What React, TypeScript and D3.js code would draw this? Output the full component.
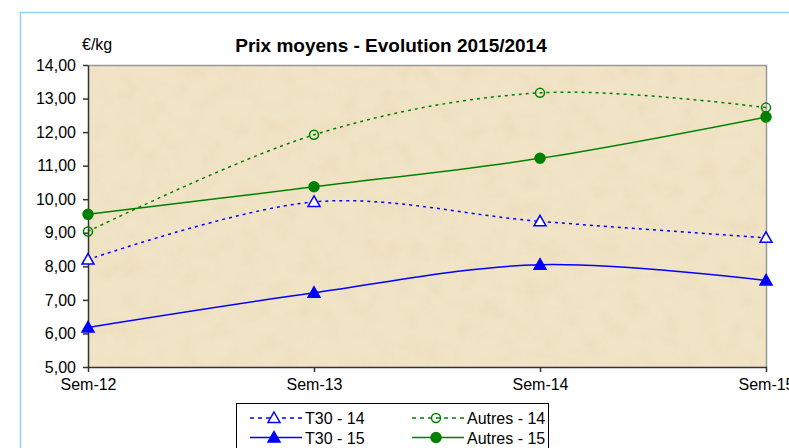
import * as d3 from "d3";
import { useEffect, useRef } from "react";

const weeks = ["Sem-12", "Sem-13", "Sem-14", "Sem-15"];
const yTicks = [5, 6, 7, 8, 9, 10, 11, 12, 13, 14];

const t30_14 = [8.2, 9.92, 9.34, 8.85];
const t30_15 = [6.18, 7.21, 8.05, 7.58];
const autres_14 = [9.04, 11.92, 13.17, 12.73];
const autres_15 = [9.55, 10.37, 11.22, 12.45];

const series = [
  { name: "T30 - 14", values: t30_14, color: "#0000ff", dashed: true, marker: "triangle", filled: false },
  { name: "Autres - 14", values: autres_14, color: "#008000", dashed: true, marker: "circle", filled: false },
  { name: "T30 - 15", values: t30_15, color: "#0000ff", dashed: false, marker: "triangle", filled: true },
  { name: "Autres - 15", values: autres_15, color: "#008000", dashed: false, marker: "circle", filled: true },
];

const FONT = "Liberation Sans, Arial, sans-serif";

export default function App() {
  const ref = useRef<SVGSVGElement>(null);

  useEffect(() => {
    const width = 789;
    const height = 448;
    const left = 88, right = 766, top = 65, bottom = 367;

    const svg = d3.select(ref.current);
    svg.selectAll("*").remove();
    svg.attr("width", width).attr("height", height).style("font-family", FONT);

    // paper texture
    const defs = svg.append("defs");
    const f = defs.append("filter").attr("id", "paper")
      .attr("x", 0).attr("y", 0).attr("width", "100%").attr("height", "100%");
    f.append("feTurbulence").attr("type", "fractalNoise")
      .attr("baseFrequency", 0.05).attr("numOctaves", 4).attr("seed", 7).attr("result", "noise");
    f.append("feColorMatrix").attr("in", "noise").attr("type", "matrix")
      .attr("values", "0 0 0 0 0.84  0 0 0 0 0.72  0 0 0 0 0.50  -1.6 0 0 0 0.95")
      .attr("result", "tint");
    f.append("feComposite").attr("in", "tint").attr("in2", "SourceGraphic").attr("operator", "atop");

    svg.append("rect").attr("width", width).attr("height", height).attr("fill", "#fff");

    // outer chart border
    svg.append("rect").attr("x", 20.5).attr("y", 12.5).attr("width", 800).attr("height", 460)
      .attr("fill", "none").attr("stroke", "#8fd3f3").attr("stroke-width", 1.5);

    const x = d3.scalePoint<string>().domain(weeks).range([left, right]);
    const y = d3.scaleLinear().domain([5, 14]).range([bottom, top]);

    svg.append("rect").attr("x", left).attr("y", top).attr("width", right - left).attr("height", bottom - top)
      .attr("fill", "#f1e4c6").attr("filter", "url(#paper)");
    svg.append("path")
      .attr("d", `M${left},${top + 0.5}H${right + 0.5}V${bottom}`)
      .attr("fill", "none").attr("stroke", "#999").attr("stroke-width", 1.5);

    // y axis
    const yAxis = svg.append("g").attr("transform", `translate(${left},0)`)
      .call(d3.axisLeft(y).tickValues(yTicks).tickSize(5).tickSizeOuter(0)
        .tickFormat(d => d3.format(".2f")(d as number).replace(".", ",")));
    yAxis.select(".domain").attr("stroke", "#333").attr("stroke-width", 1.5);
    yAxis.selectAll(".tick line").attr("stroke", "#333").attr("stroke-width", 1.5);
    yAxis.selectAll("text").attr("font-size", 16).attr("fill", "#000")
      .attr("font-family", FONT).attr("x", -12);

    // x axis
    const xAxis = svg.append("g").attr("transform", `translate(0,${bottom})`)
      .call(d3.axisBottom(x).tickSize(5).tickSizeOuter(0));
    xAxis.select(".domain").attr("stroke", "#333").attr("stroke-width", 1.5);
    xAxis.selectAll(".tick line").attr("stroke", "#333").attr("stroke-width", 1.5);
    xAxis.selectAll("text").attr("font-size", 16).attr("fill", "#000")
      .attr("font-family", FONT).attr("y", 12);

    // titles
    svg.append("text").attr("x", 391).attr("y", 52).attr("text-anchor", "middle")
      .attr("font-size", 19).attr("font-weight", "bold").text("Prix moyens - Evolution 2015/2014");
    svg.append("text").attr("x", 82).attr("y", 50).attr("font-size", 16).text("€/kg");

    const line = d3.line<number>()
      .x((_, i) => x(weeks[i]) as number)
      .y(d => y(d))
      .curve(d3.curveCatmullRom.alpha(0));

    const marker = (g: d3.Selection<SVGGElement, unknown, null, undefined>, s: typeof series[0], cx: number, cy: number) => {
      if (s.marker === "triangle") {
        g.append("path")
          .attr("d", `M${cx},${cy - 6}L${cx + 6},${cy + 4.5}L${cx - 6},${cy + 4.5}Z`)
          .attr("fill", s.filled ? s.color : "#fff").attr("stroke", s.color).attr("stroke-width", 1.5);
      } else {
        g.append("circle").attr("cx", cx).attr("cy", cy).attr("r", s.filled ? 5 : 4.5)
          .attr("fill", s.filled ? s.color : "none").attr("stroke", s.color).attr("stroke-width", 1.5);
      }
    };

    series.forEach(s => {
      svg.append("path").attr("d", line(s.values))
        .attr("fill", "none").attr("stroke", s.color).attr("stroke-width", 1.5)
        .attr("stroke-dasharray", s.dashed ? "3,4" : null);
      const g = svg.append("g");
      s.values.forEach((v, i) => marker(g, s, x(weeks[i]) as number, y(v)));
    });

    // legend
    svg.append("rect").attr("x", 236.5).attr("y", 403.5).attr("width", 312).attr("height", 60)
      .attr("fill", "#fff").attr("stroke", "#000").attr("stroke-width", 1);
    const legPos = [
      { x: 250, y: 418 }, { x: 412, y: 418 },
      { x: 250, y: 437.5 }, { x: 412, y: 437.5 },
    ];
    series.forEach((s, i) => {
      const p = legPos[i];
      const g = svg.append("g");
      g.append("line").attr("x1", p.x).attr("x2", p.x + 52).attr("y1", p.y).attr("y2", p.y)
        .attr("stroke", s.color).attr("stroke-width", 1.5)
        .attr("stroke-dasharray", s.dashed ? "4,4" : null);
      marker(g, s, p.x + 24, p.y);
      g.append("text").attr("x", p.x + 55).attr("y", p.y + 6).attr("font-size", 16).text(s.name);
    });
  }, []);

  return <svg ref={ref} style={{ position: "absolute", left: 0, top: 0 }} />;
}
